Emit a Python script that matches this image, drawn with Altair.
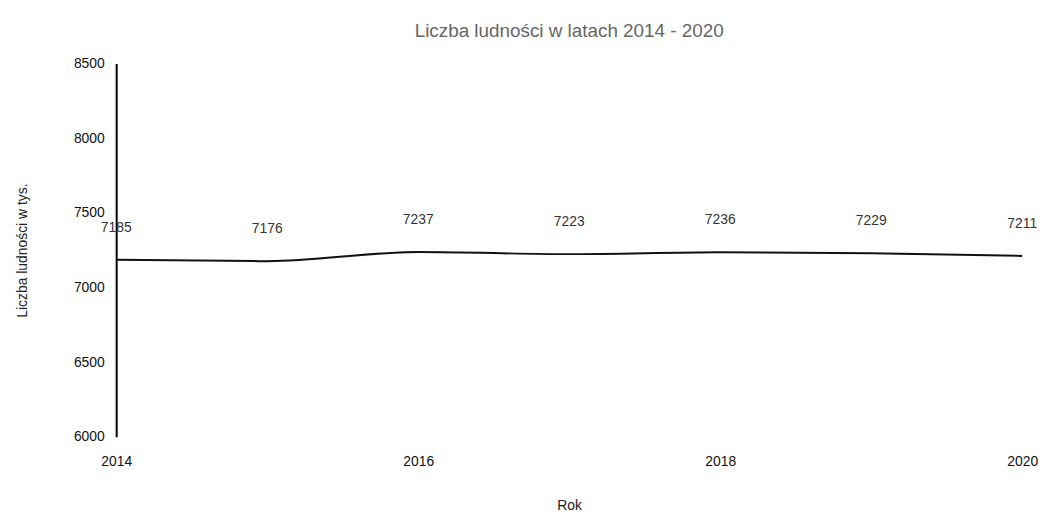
import altair as alt
import pandas as pd

years = [2014, 2015, 2016, 2017, 2018, 2019, 2020]
population = [7185, 7176, 7237, 7223, 7236, 7229, 7211]
x_ticks = [2014, 2016, 2018, 2020]
y_ticks = [6000, 6500, 7000, 7500, 8000, 8500]

df = pd.DataFrame({"Rok": years, "Ludnosc": population})

FONT = "Liberation Sans"

x = alt.X("Rok:Q",
          scale=alt.Scale(domain=[2014, 2020], nice=False, zero=False),
          axis=alt.Axis(values=x_ticks, format="d", title="Rok", grid=False,
                        domain=False, ticks=False, labelPadding=18, labelFlush=False,
                        labelFontSize=14, labelColor="#111", labelFont=FONT,
                        titleFont=FONT, titleFontSize=14, titleFontWeight="normal",
                        titleColor="#222", titlePadding=30))
y = alt.Y("Ludnosc:Q",
          scale=alt.Scale(domain=[6000, 8500], nice=False, zero=False),
          axis=alt.Axis(values=y_ticks, format="d", title="Liczba ludności w tys.",
                        grid=False, domain=True, domainColor="#000", domainWidth=2,
                        ticks=False, labelPadding=12, labelFlush=False,
                        labelFontSize=14, labelColor="#111", labelFont=FONT,
                        titleFont=FONT, titleFontSize=14, titleFontWeight="normal",
                        titleColor="#222", titlePadding=44))

base = alt.Chart(df).encode(x=x, y=y)

line = base.mark_line(color="#111", strokeWidth=2, interpolate="monotone")
labels = base.mark_text(dy=-32, fontSize=14, color="#333", font=FONT).encode(
    text=alt.Text("Ludnosc:Q", format="d"))

chart = (line + labels).properties(
    width=913, height=376,
    title=alt.TitleParams("Liczba ludności w latach 2014 - 2020", font=FONT,
                          fontSize=19, fontWeight="normal", color="#666",
                          offset=16),
    autosize=alt.AutoSizeParams(type="none"),
    padding={"left": 109, "top": 54, "right": 25, "bottom": 80},
).configure_view(stroke=None)

chart.save("out.html", embed_options={"renderer": "svg", "actions": False})
